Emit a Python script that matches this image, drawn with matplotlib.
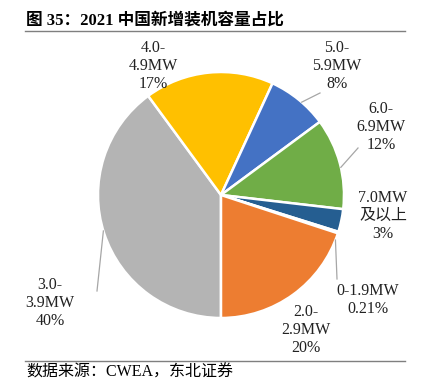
import numpy as np
import matplotlib.pyplot as plt
from matplotlib.lines import Line2D

plt.rcParams['font.family'] = ['Liberation Serif', 'Noto Sans CJK SC', 'DejaVu Sans']

# data, in clockwise order starting at 6 o'clock
categories = ["3.0-\n3.9MW", "4.0-\n4.9MW", "5.0-\n5.9MW", "6.0-\n6.9MW",
              "7.0MW\n及以上", "0-1.9MW", "2.0-\n2.9MW"]
shares = [40, 17, 8, 12, 3, 0.21, 20]
pct_labels = ["40%", "17%", "8%", "12%", "3%", "0.21%", "20%"]
colors = ["#B4B4B4", "#FFC000", "#4472C4", "#70AD47", "#255E91", "#5B9BD5", "#ED7D31"]

title = "图 35：2021 中国新增装机容量占比"
source = "数据来源：CWEA，东北证券"

W, H = 426, 386
fig = plt.figure(figsize=(W / 100, H / 100), dpi=100)
ax = fig.add_axes([0, 0, 1, 1])
ax.set_xlim(0, W)
ax.set_ylim(0, H)
ax.set_aspect('equal')
ax.axis('off')

cx, cy, r = 221, H - 195, 123
wedges, _ = ax.pie(shares, colors=colors, startangle=-90, counterclock=False,
                   center=(cx, cy), radius=r, frame=True,
                   wedgeprops=dict(edgecolor='white', linewidth=1.8))
ax.set_xlim(0, W)
ax.set_ylim(0, H)
ax.axis('off')

# label positions (pixel coords from top-left)
label_pos = [(50, 303), (153, 66), (337, 66), (381, 127),
             (383, 216), (368, 300), (306, 330)]
for cat, pct, (px, py) in zip(categories, pct_labels, label_pos):
    ax.text(px, H - py, cat + "\n" + pct, ha='center', va='center',
            fontsize=11.5, linespacing=1.15, color='#222222')

# leader lines: (edge angle deg, end point px)
leaders = [(0, 197, (97, 291)), (2, 49, (320, 93)), (3, 13, (358, 148)),
           (5, -21.5, (337, 279))]
for i, ang, (ex, ey) in leaders:
    sx = cx + r * np.cos(np.radians(ang))
    sy = cy + r * np.sin(np.radians(ang))
    ax.add_line(Line2D([sx, ex], [sy, H - ey], color='#A6A6A6', lw=0.9))

# title, rules and source
ax.text(26, H - 21, title, ha='left', va='center', fontsize=12, fontweight='bold')
ax.add_line(Line2D([25, 405], [H - 31, H - 31], color='#7F7F7F', lw=1.0))
ax.add_line(Line2D([25, 405], [H - 361, H - 361], color='#7F7F7F', lw=1.0))
ax.text(26, H - 373, source, ha='left', va='center', fontsize=11.5)

fig.savefig("out.png", dpi=100)
